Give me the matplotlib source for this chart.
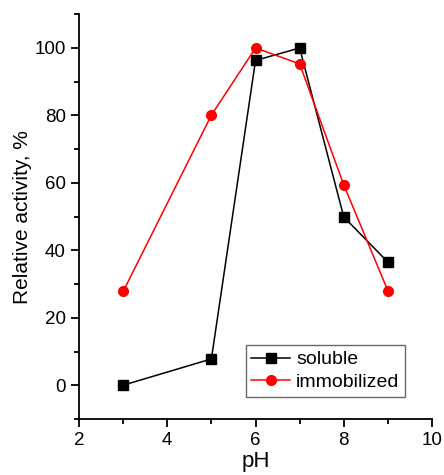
import matplotlib
matplotlib.use('Agg')
from matplotlib import pyplot as plt
from matplotlib.ticker import MultipleLocator

plt.rcParams['font.family'] = ['Liberation Sans', 'DejaVu Sans']

# pH values and relative activity (%)
ph = [3, 5, 6, 7, 8, 9]
soluble = [0, 7.8, 96.3, 100, 49.9, 36.5]
immobilized = [27.8, 80.1, 100, 95.3, 59.4, 28.0]

fig = plt.figure(figsize=(4.44, 4.75), dpi=100)
ax = fig.add_axes([0.178, 0.118, 0.795, 0.852])

ax.plot(ph, soluble, color='black', marker='s', markersize=6.5, linewidth=1.1, label='soluble')
ax.plot(ph, immobilized, color='red', marker='o', markersize=7, linewidth=1.1, label='immobilized')

ax.set_xlim(2, 10)
ax.set_ylim(-10, 110)
ax.xaxis.set_major_locator(MultipleLocator(2))
ax.xaxis.set_minor_locator(MultipleLocator(1))
ax.yaxis.set_major_locator(MultipleLocator(20))
ax.yaxis.set_minor_locator(MultipleLocator(10))

for side in ['top', 'right']:
    ax.spines[side].set_visible(False)
for side in ['left', 'bottom']:
    ax.spines[side].set_linewidth(1.3)

ax.tick_params(which='major', direction='out', length=6, width=1.3, labelsize=13.5)
ax.tick_params(which='minor', direction='out', length=3.5, width=1.3)

ax.set_xlabel('pH', fontsize=16, labelpad=1)
ax.set_ylabel('Relative activity, %', fontsize=15, labelpad=2)

leg = ax.legend(loc='lower left', bbox_to_anchor=(0.472, 0.055), fontsize=14,
                frameon=True, fancybox=False, edgecolor='#444444', handlelength=2.0,
                handletextpad=0.3, borderpad=0.3, labelspacing=0.25, borderaxespad=0)
leg.get_frame().set_linewidth(1.0)

fig.savefig('out.png', dpi=100)
